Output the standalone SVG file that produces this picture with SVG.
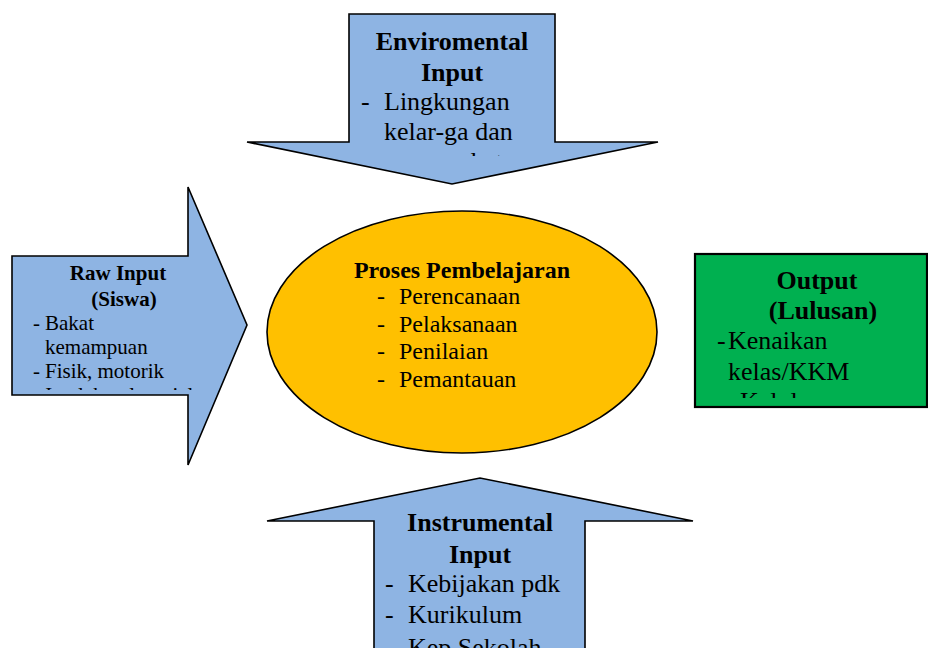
<svg xmlns="http://www.w3.org/2000/svg" width="928" height="648" viewBox="0 0 928 648">
<style>
.arrow{fill:#8EB4E3;stroke:#000;stroke-width:1.6;stroke-linejoin:miter}
.t{font-family:"Liberation Serif","Times New Roman",serif;fill:#000}
.b{font-weight:bold}
</style>
<defs>
<clipPath id="clipTop"><rect x="340" y="0" width="230" height="156"/></clipPath>
<clipPath id="clipLeft"><rect x="12" y="250" width="200" height="140"/></clipPath>
<clipPath id="clipRight"><rect x="694" y="250" width="234" height="148"/></clipPath>
</defs>
<rect width="928" height="648" fill="#fff"/>
<g id="env-input">
<polygon class="arrow" points="349,14 555,14 555,142 658,142 452,184 247,142 349,142"/>
<g class="t" font-size="26">
<text class="b" x="452" y="50" text-anchor="middle">Enviromental</text>
<text class="b" x="452" y="81" text-anchor="middle">Input</text>
<text x="361" y="110">-</text><text x="384" y="110">Lingkungan</text>
<text x="384" y="140">kelar-ga dan</text>
<text x="384" y="170" clip-path="url(#clipTop)">masyarakat</text>
</g>
</g>
<g id="raw-input">
<polygon class="arrow" points="12,256 188,256 188,187 247,325 188,465 188,395 12,395"/>
<g class="t" font-size="21">
<text class="b" x="118" y="280" text-anchor="middle">Raw Input</text>
<text class="b" x="124" y="306" text-anchor="middle">(Siswa)</text>
<text x="33" y="330">-</text><text x="45" y="330">Bakat</text>
<text x="45" y="354">kemampuan</text>
<text x="33" y="378">-</text><text x="45" y="378">Fisik, motorik</text>
<text x="33" y="402" clip-path="url(#clipLeft)">- Intelektual, sosial</text>
</g>
</g>
<g id="proses">
<ellipse cx="462" cy="332" rx="195" ry="121" fill="#FFC000" stroke="#000" stroke-width="1.6"/>
<g class="t" font-size="24">
<text class="b" x="462" y="278" text-anchor="middle">Proses Pembelajaran</text>
<text x="377" y="304">-</text><text x="399" y="304">Perencanaan</text>
<text x="377" y="332">-</text><text x="399" y="332">Pelaksanaan</text>
<text x="377" y="359">-</text><text x="399" y="359">Penilaian</text>
<text x="377" y="387">-</text><text x="399" y="387">Pemantauan</text>
</g>
</g>
<g id="output">
<rect x="695" y="254" width="232" height="153" fill="#00B050" stroke="#000" stroke-width="2.2"/>
<g class="t" font-size="26">
<text class="b" x="817" y="289" text-anchor="middle">Output</text>
<text class="b" x="823" y="319" text-anchor="middle">(Lulusan)</text>
<text x="717" y="349">-</text><text x="728" y="349">Kenaikan</text>
<text x="728" y="380">kelas/KKM</text>
<text x="740" y="410" clip-path="url(#clipRight)">Kelulusan</text>
</g>
</g>
<g id="instr-input">
<polygon class="arrow" points="374,650 374,521 267,521 480,478 693,521 585,521 585,650"/>
<g class="t" font-size="26">
<text class="b" x="480" y="531" text-anchor="middle">Instrumental</text>
<text class="b" x="480" y="563" text-anchor="middle">Input</text>
<text x="385" y="592">-</text><text x="408" y="592">Kebijakan pdk</text>
<text x="385" y="623">-</text><text x="408" y="623">Kurikulum</text>
<text x="385" y="656">-</text><text x="408" y="656">Kep Sekolah</text>
</g>
</g>
<g id="connectors"></g>
</svg>
